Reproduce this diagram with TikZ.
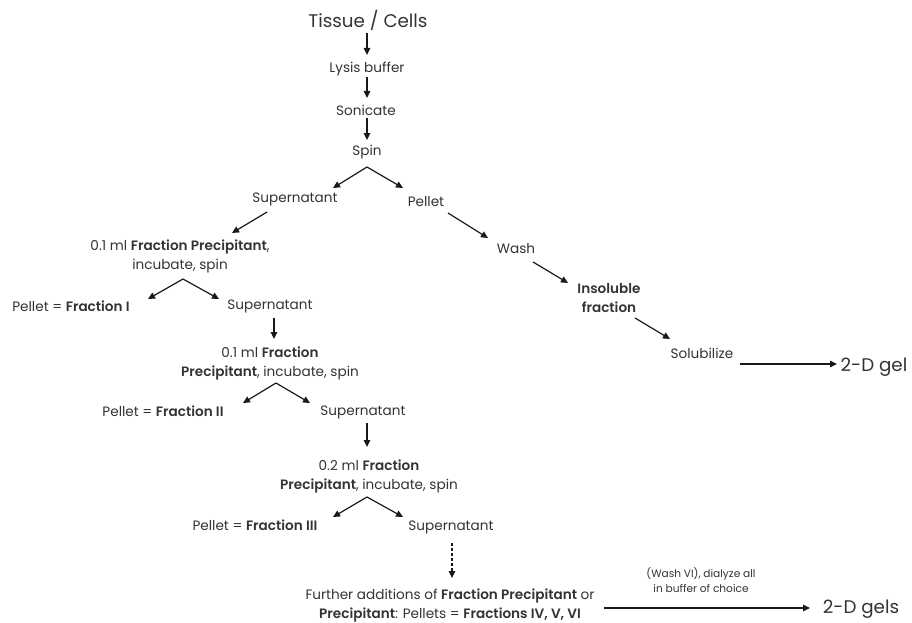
\documentclass[tikz,border=0pt]{standalone}
\usepackage{fontspec}
\setmainfont{Poppins}[BoldFont={Poppins SemiBold}]
\usetikzlibrary{arrows.meta}
\begin{document}
\begin{tikzpicture}[x=1pt,y=-1pt,
  txt/.style={font=\fontsize{13.6}{19}\selectfont, inner sep=0pt, align=center, text=black!80},
  big/.style={font=\fontsize{18.3}{22}\selectfont, inner sep=0pt, text=black!80},
  small/.style={font=\fontsize{10.6}{15}\selectfont, inner sep=0pt, align=center, text=black!80},
  arr/.style={-{Triangle[length=7pt,width=6.5pt]}, line width=1.2pt, draw=black!90},
]
\useasboundingbox (0,0) rectangle (912,623);
% nodes
\node[big] (tissue) at (368,20) {Tissue / Cells};
\node[txt] (lysis) at (367,69) {Lysis buffer};
\node[txt] (sonicate) at (366,110) {Sonicate};
\node[txt] (spin) at (367,152) {Spin};
\node[txt] (sup1) at (295,199) {Supernatant};
\node[txt] (pellet) at (426,202) {Pellet};
\node[txt] (fp1) at (180,256.5) {0.1 ml \textbf{Fraction Precipitant},\\incubate, spin};
\node[txt] (f1) at (71,306) {Pellet = \textbf{Fraction I}};
\node[txt] (sup2) at (270,306) {Supernatant};
\node[txt] (fp2) at (270,363.5) {0.1 ml \textbf{Fraction}\\\textbf{Precipitant}, incubate, spin};
\node[txt] (f2) at (163,411) {Pellet = \textbf{Fraction II}};
\node[txt] (sup3) at (363,412) {Supernatant};
\node[txt] (fp3) at (369,476) {0.2 ml \textbf{Fraction}\\\textbf{Precipitant}, incubate, spin};
\node[txt] (f3) at (255,525) {Pellet = \textbf{Fraction III}};
\node[txt] (sup4) at (451,527) {Supernatant};
\node[txt] (further) at (450,605.5) {Further additions of \textbf{Fraction Precipitant} or\\\textbf{Precipitant}: Pellets = \textbf{Fractions IV, V, VI}};
\node[txt] (wash) at (516,249) {Wash};
\node[txt] (insol) at (609,298) {\textbf{Insoluble}\\\textbf{fraction}};
\node[txt] (solub) at (702,353) {Solubilize};
\node[big] (gel) at (874,367) {2-D gel};
\node[big] (gels) at (861,609) {2-D gels};
\node[small] (dial) at (701,580) {(Wash VI), dialyze all\\in buffer of choice};
% coordinates
\coordinate (a1s) at (367,33);  \coordinate (a1e) at (367,55);
\coordinate (a2s) at (367,77);  \coordinate (a2e) at (367,98);
\coordinate (a3s) at (367,118); \coordinate (a3e) at (367,140);
\coordinate (k0) at (367,167); \coordinate (k0l) at (333,188); \coordinate (k0r) at (403,188);
\coordinate (s1s) at (267,212); \coordinate (s1e) at (232,233);
\coordinate (k1) at (183,279); \coordinate (k1l) at (148,299); \coordinate (k1r) at (219,299);
\coordinate (d1s) at (274,318); \coordinate (d1e) at (274,339);
\coordinate (k2) at (276,383); \coordinate (k2l) at (243,403); \coordinate (k2r) at (310,403);
\coordinate (d2s) at (367,423); \coordinate (d2e) at (367,447);
\coordinate (k3) at (367,497); \coordinate (k3l) at (333,517); \coordinate (k3r) at (403,517);
\coordinate (d3s) at (452,543); \coordinate (d3e) at (452,578);
\coordinate (p1s) at (448,213); \coordinate (p1e) at (488,238);
\coordinate (w1s) at (533,262); \coordinate (w1e) at (568,283);
\coordinate (i1s) at (635,318); \coordinate (i1e) at (670,339);
\coordinate (g1s) at (740,364); \coordinate (g1e) at (837,364);
\coordinate (g2s) at (604,608); \coordinate (g2e) at (810,608);
% connectors
\draw[arr] (a1s) -- (a1e);
\draw[arr] (a2s) -- (a2e);
\draw[arr] (a3s) -- (a3e);
\draw[arr] (k0) -- (k0l);
\draw[arr] (k0) -- (k0r);
\draw[arr] (s1s) -- (s1e);
\draw[arr] (k1) -- (k1l);
\draw[arr] (k1) -- (k1r);
\draw[arr] (d1s) -- (d1e);
\draw[arr] (k2) -- (k2l);
\draw[arr] (k2) -- (k2r);
\draw[arr] (d2s) -- (d2e);
\draw[arr] (k3) -- (k3l);
\draw[arr] (k3) -- (k3r);
\draw[arr, dash pattern=on 3pt off 2pt] (d3s) -- (d3e);
\draw[arr] (p1s) -- (p1e);
\draw[arr] (w1s) -- (w1e);
\draw[arr] (i1s) -- (i1e);
\draw[arr] (g1s) -- (g1e);
\draw[arr] (g2s) -- (g2e);
\end{tikzpicture}
\end{document}
